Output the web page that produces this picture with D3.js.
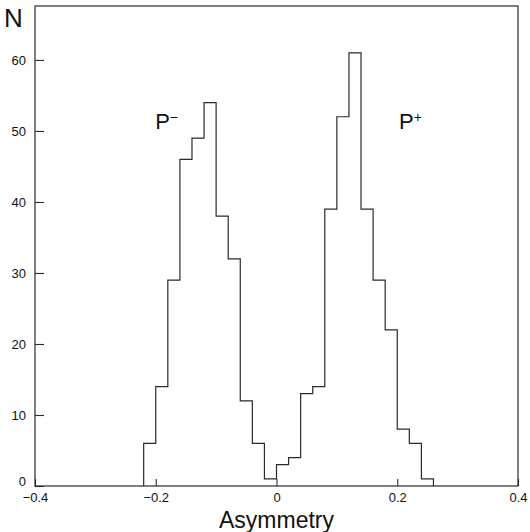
<!DOCTYPE html>
<html>
<head>
<meta charset="utf-8">
<script src="https://cdn.jsdelivr.net/npm/d3@7"></script>
<style>
  body { margin: 0; background: #fff; }
  text { font-family: "Liberation Sans", Arial, sans-serif; fill: #111; }
</style>
</head>
<body>
<div id="chart"></div>
<script>
// bin edges and counts
const binEdges = [-0.22, -0.20, -0.18, -0.16, -0.14, -0.12, -0.10, -0.08, -0.06, -0.04, -0.02, 0.00,
                  0.02, 0.04, 0.06, 0.08, 0.10, 0.12, 0.14, 0.16, 0.18, 0.20, 0.22, 0.24, 0.26];
const counts = [6, 14, 29, 46, 49, 54, 38, 32, 12, 6, 1,
                3, 4, 13, 14, 39, 52, 61, 39, 29, 22, 8, 6, 1];
const xTicks = [-0.4, -0.2, 0, 0.2, 0.4];
const yTicks = [0, 10, 20, 30, 40, 50, 60];
const peakLabels = [
  { x: -0.182, y: 50.3, base: "P", sup: "\u2212" },
  { x: 0.222, y: 50.3, base: "P", sup: "+" },
];

const width = 530, height = 532;
const margin = { top: 6, right: 12, bottom: 46, left: 35 };
const w = width - margin.left - margin.right;
const h = height - margin.top - margin.bottom;

const svg = d3.select("#chart").append("svg")
  .attr("width", width)
  .attr("height", height);

const g = svg.append("g")
  .attr("transform", `translate(${margin.left},${margin.top})`);

const x = d3.scaleLinear().domain([-0.4, 0.4]).range([0, w]);
const y = d3.scaleLinear().domain([0, 67.6]).range([h, 0]);

const ink = "#2a2a2a";

// frame
g.append("rect")
  .attr("width", w)
  .attr("height", h)
  .style("fill", "none")
  .style("stroke", ink)
  .style("stroke-width", 1.2);

// x axis, ticks pointing inward
const xAxis = d3.axisBottom(x)
  .tickValues(xTicks)
  .tickSize(-7)
  .tickSizeOuter(0)
  .tickPadding(7)
  .tickFormat((d) => (d === 0 ? "0" : d3.format(".1f")(d).replace("-", "\u2212")));

const xg = g.append("g")
  .attr("transform", `translate(0,${h})`)
  .call(xAxis);

// y axis, ticks pointing inward
const yAxis = d3.axisLeft(y)
  .tickValues(yTicks)
  .tickSize(-9)
  .tickSizeOuter(0)
  .tickPadding(9);

const yg = g.append("g").call(yAxis);

[xg, yg].forEach((a) => {
  a.select(".domain").remove();
  a.selectAll(".tick line").style("stroke", ink).style("stroke-width", 1.1);
  a.selectAll(".tick text")
    .style("font-family", "'Liberation Sans', Arial, sans-serif")
    .style("font-size", "13px")
    .style("fill", "#111");
});
yg.selectAll(".tick text").attr("dy", "0.35em");
// the zero label sits a little higher, clear of the x labels
yg.selectAll(".tick text").filter((d) => d === 0).attr("dy", "-0.05em");

// histogram outline
const pts = [[binEdges[0], 0]];
counts.forEach((c, i) => {
  pts.push([binEdges[i], c]);
  pts.push([binEdges[i + 1], c]);
});
pts.push([binEdges[binEdges.length - 1], 0]);

const line = d3.line()
  .x((d) => x(d[0]))
  .y((d) => y(d[1]));

g.append("path")
  .datum(pts)
  .attr("d", line)
  .style("fill", "none")
  .style("stroke", ink)
  .style("stroke-width", 1.2);

// peak labels
peakLabels.forEach((p) => {
  const t = g.append("text")
    .attr("x", x(p.x))
    .attr("y", y(p.y))
    .style("font-size", "22px")
    .style("text-anchor", "middle");
  t.append("tspan").text(p.base);
  t.append("tspan")
    .attr("dy", "-0.5em")
    .style("font-size", "14px")
    .text(p.sup);
});

// axis titles
svg.append("text")
  .attr("x", 4)
  .attr("y", 27)
  .style("font-size", "26px")
  .text("N");

svg.append("text")
  .attr("x", margin.left + w / 2)
  .attr("y", 528)
  .style("font-size", "23px")
  .style("text-anchor", "middle")
  .text("Asymmetry");
</script>
</body>
</html>
